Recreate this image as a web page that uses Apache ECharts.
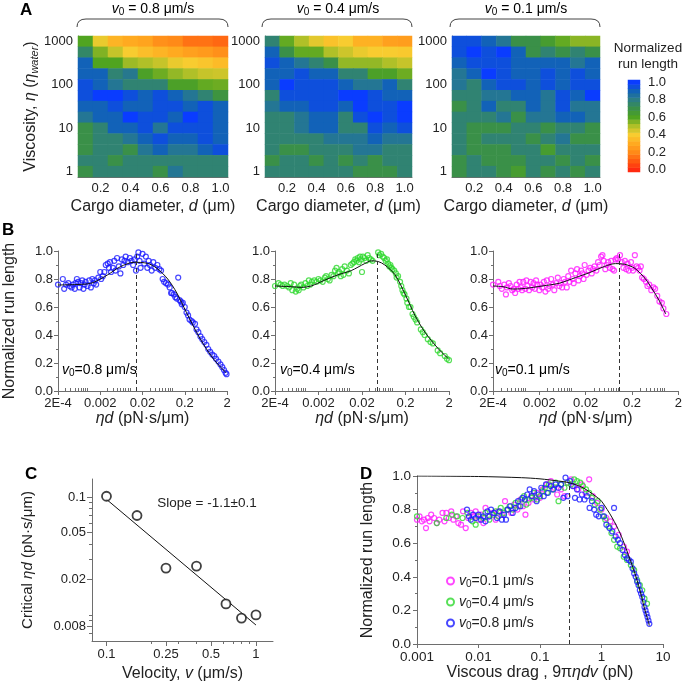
<!DOCTYPE html>
<html>
<head>
<meta charset="utf-8">
<script src="https://cdn.jsdelivr.net/npm/echarts@6/dist/echarts.min.js"></script>
<style>
  html, body { margin: 0; padding: 0; background: #fff; }
  #chart { width: 685px; height: 683px; }
</style>
</head>
<body>
<div id="chart"></div>
<script>
// ---------- data ----------
const diameters = ['0.1', '0.2', '0.3', '0.4', '0.5', '0.6', '0.7', '0.8', '0.9', '1.0']
const viscosities = ['1', '1.8', '3.2', '5.6', '10', '18', '32', '56', '100', '180', '320', '560', '1000']

// heatmap rows, top (1000) to bottom (1)
const heat08 = [
  [0.60, 0.42, 0.33, 0.30, 0.28, 0.22, 0.20, 0.15, 0.15, 0.13],
  [0.75, 0.55, 0.47, 0.40, 0.36, 0.33, 0.30, 0.27, 0.25, 0.22],
  [0.90, 0.60, 0.60, 0.52, 0.50, 0.47, 0.42, 0.40, 0.38, 0.35],
  [0.90, 0.90, 0.77, 0.82, 0.62, 0.57, 0.53, 0.50, 0.47, 0.46],
  [0.95, 0.90, 0.83, 0.77, 0.77, 0.77, 0.62, 0.62, 0.58, 0.57],
  [0.95, 1.00, 1.00, 0.95, 0.90, 0.95, 0.90, 0.83, 0.77, 0.68],
  [0.90, 0.90, 0.95, 0.90, 0.90, 0.95, 0.95, 0.90, 0.95, 0.90],
  [0.83, 0.90, 0.90, 1.00, 0.95, 0.95, 0.90, 1.00, 0.95, 0.90],
  [0.70, 0.77, 0.90, 0.90, 0.95, 0.83, 0.95, 0.95, 0.95, 0.90],
  [0.70, 0.77, 0.77, 0.83, 0.90, 0.95, 0.90, 0.90, 0.95, 0.90],
  [0.70, 0.77, 0.77, 0.70, 0.83, 0.90, 0.83, 0.83, 0.90, 0.95],
  [0.77, 0.77, 0.70, 0.77, 0.77, 0.77, 0.77, 0.77, 0.77, 0.77],
  [0.70, 0.77, 0.77, 0.77, 0.77, 0.70, 0.83, 0.77, 0.77, 0.77]
]
const heat04 = [
  [0.77, 0.58, 0.50, 0.43, 0.37, 0.40, 0.32, 0.32, 0.27, 0.26],
  [0.90, 0.70, 0.58, 0.58, 0.50, 0.46, 0.42, 0.40, 0.40, 0.39],
  [0.95, 0.90, 0.83, 0.77, 0.70, 0.53, 0.53, 0.53, 0.50, 0.47],
  [0.90, 0.90, 0.95, 0.90, 0.90, 0.77, 0.77, 0.62, 0.62, 0.57],
  [0.90, 1.00, 0.95, 0.95, 0.95, 0.90, 0.83, 0.83, 0.90, 0.77],
  [0.77, 0.95, 0.95, 0.95, 0.95, 1.00, 1.00, 0.95, 0.90, 0.90],
  [0.83, 0.90, 0.90, 0.95, 0.95, 0.90, 1.00, 0.95, 0.95, 1.00],
  [0.77, 0.77, 0.83, 0.90, 0.90, 0.77, 0.95, 1.00, 0.95, 1.00],
  [0.77, 0.77, 0.83, 0.90, 0.90, 0.77, 0.77, 0.95, 0.90, 0.95],
  [0.77, 0.77, 0.77, 0.77, 0.83, 0.83, 0.83, 0.90, 0.83, 0.83],
  [0.77, 0.70, 0.70, 0.77, 0.77, 0.77, 0.83, 0.83, 0.77, 0.77],
  [0.70, 0.77, 0.77, 0.70, 0.77, 0.70, 0.77, 0.70, 0.77, 0.77],
  [0.77, 0.77, 0.77, 0.77, 0.77, 0.77, 0.70, 0.70, 0.70, 0.77]
]
const heat01 = [
  [0.95, 0.95, 0.90, 0.83, 0.70, 0.70, 0.64, 0.58, 0.54, 0.54],
  [0.95, 1.00, 0.95, 1.00, 0.90, 0.70, 0.77, 0.70, 0.77, 0.70],
  [0.90, 0.95, 0.95, 0.95, 0.90, 0.90, 0.90, 0.90, 0.83, 0.90],
  [0.83, 0.90, 1.00, 0.95, 0.90, 0.90, 0.95, 0.90, 0.95, 0.90],
  [0.83, 0.77, 0.90, 0.95, 0.95, 0.90, 0.95, 0.90, 0.95, 0.95],
  [0.77, 0.77, 0.83, 0.83, 0.90, 0.90, 0.83, 0.95, 0.90, 1.00],
  [0.70, 0.77, 0.90, 0.77, 0.77, 0.90, 0.83, 0.95, 0.83, 0.83],
  [0.77, 0.77, 0.77, 0.83, 0.70, 0.83, 0.83, 0.90, 0.90, 0.83],
  [0.77, 0.70, 0.70, 0.70, 0.77, 0.77, 0.70, 0.77, 0.77, 0.70],
  [0.77, 0.70, 0.77, 0.77, 0.77, 0.70, 0.77, 0.83, 0.70, 0.70],
  [0.77, 0.70, 0.70, 0.70, 0.77, 0.77, 0.64, 0.77, 0.77, 0.77],
  [0.70, 0.77, 0.70, 0.70, 0.70, 0.77, 0.77, 0.70, 0.77, 0.70],
  [0.70, 0.77, 0.77, 0.70, 0.64, 0.77, 0.70, 0.77, 0.70, 0.77]
]
const colorbarLevels = ['0.00', '0.05', '0.10', '0.15', '0.20', '0.25', '0.30', '0.35', '0.40', '0.45', '0.50',
  '0.55', '0.60', '0.65', '0.70', '0.75', '0.80', '0.85', '0.90', '0.95', '1.00']

// panel B: run length vs eta*d
const bTickValues = [2e-4, 0.002, 0.02, 0.2, 2]
const bTickLabels = ['2E-4', '0.002', '0.02', '0.2', '2']
const blueB = [
  [2.0e-4, 0.76], [2.6e-4, 0.80], [2.8e-4, 0.73], [3.1e-4, 0.76], [3.5e-4, 0.77], [3.8e-4, 0.75], [4.2e-4, 0.74],
  [4.5e-4, 0.76], [5.0e-4, 0.73], [5.2e-4, 0.77], [5.6e-4, 0.80], [6.0e-4, 0.78], [6.5e-4, 0.74], [7.0e-4, 0.77],
  [7.5e-4, 0.79], [8.0e-4, 0.73], [8.5e-4, 0.76], [9.0e-4, 0.78], [1.0e-3, 0.75], [1.1e-3, 0.79], [1.2e-3, 0.74],
  [1.3e-3, 0.80], [1.4e-3, 0.77], [1.5e-3, 0.79], [1.6e-3, 0.76], [1.8e-3, 0.81], [2.0e-3, 0.85], [2.1e-3, 0.80],
  [2.3e-3, 0.82], [2.5e-3, 0.85], [2.7e-3, 0.90], [3.0e-3, 0.91], [3.2e-3, 0.88], [3.4e-3, 0.92], [3.6e-3, 0.85],
  [4.0e-3, 0.88], [4.3e-3, 0.93], [4.6e-3, 0.86], [5.0e-3, 0.95], [5.5e-3, 0.89], [6.0e-3, 0.84], [6.5e-3, 0.94],
  [7.0e-3, 0.90], [7.5e-3, 0.93], [8.0e-3, 0.96], [9.0e-3, 0.92], [0.010, 0.95], [0.011, 0.93], [0.012, 0.90],
  [0.013, 0.94], [0.014, 0.86], [0.015, 0.96], [0.016, 0.99], [0.017, 0.93], [0.018, 0.88], [0.020, 0.98],
  [0.022, 0.91], [0.024, 0.96], [0.026, 0.88], [0.028, 0.93], [0.030, 0.90], [0.033, 0.86], [0.036, 0.92],
  [0.040, 0.88], [0.045, 0.90], [0.050, 0.87], [0.055, 0.86], [0.060, 0.80], [0.065, 0.78], [0.072, 0.77],
  [0.080, 0.76], [0.088, 0.74], [0.095, 0.70], [0.10, 0.70], [0.11, 0.69], [0.12, 0.67], [0.13, 0.66],
  [0.14, 0.81], [0.15, 0.65], [0.16, 0.64], [0.17, 0.62], [0.18, 0.63], [0.20, 0.60], [0.22, 0.56], [0.24, 0.54],
  [0.26, 0.51], [0.29, 0.50], [0.31, 0.49], [0.35, 0.48], [0.38, 0.44], [0.42, 0.42], [0.47, 0.39], [0.52, 0.37],
  [0.58, 0.35], [0.65, 0.33], [0.72, 0.30], [0.80, 0.28], [0.90, 0.26], [1.0, 0.25], [1.1, 0.23], [1.25, 0.21],
  [1.4, 0.19], [1.55, 0.17], [1.7, 0.15], [1.85, 0.13], [1.95, 0.12]
]
const greenB = [
  [2.0e-4, 0.75], [2.4e-4, 0.77], [2.7e-4, 0.76], [3.0e-4, 0.75], [3.3e-4, 0.76], [3.8e-4, 0.75], [4.2e-4, 0.74],
  [4.6e-4, 0.77], [5.0e-4, 0.72], [5.5e-4, 0.76], [6.0e-4, 0.71], [6.5e-4, 0.73], [7.0e-4, 0.72], [7.5e-4, 0.75],
  [8.0e-4, 0.76], [9.0e-4, 0.74], [1.0e-3, 0.77], [1.1e-3, 0.75], [1.2e-3, 0.79], [1.3e-3, 0.76], [1.4e-3, 0.78],
  [1.6e-3, 0.79], [1.8e-3, 0.78], [2.0e-3, 0.80], [2.2e-3, 0.79], [2.5e-3, 0.78], [2.8e-3, 0.81], [3.0e-3, 0.82],
  [3.3e-3, 0.80], [3.6e-3, 0.79], [4.0e-3, 0.83], [4.4e-3, 0.82], [4.8e-3, 0.86], [5.2e-3, 0.88], [5.6e-3, 0.84],
  [6.0e-3, 0.85], [6.5e-3, 0.82], [7.0e-3, 0.87], [7.5e-3, 0.83], [8.0e-3, 0.89], [9.0e-3, 0.86], [0.010, 0.84],
  [0.011, 0.90], [0.012, 0.91], [0.013, 0.92], [0.014, 0.94], [0.015, 0.93], [0.016, 0.95], [0.017, 0.92],
  [0.018, 0.96], [0.019, 0.94], [0.020, 0.85], [0.021, 0.96], [0.023, 0.95], [0.025, 0.93], [0.027, 0.97],
  [0.029, 0.95], [0.032, 0.94], [0.035, 0.93], [0.047, 0.99], [0.050, 0.97], [0.055, 0.98], [0.060, 0.96],
  [0.065, 0.95], [0.070, 0.93], [0.075, 0.94], [0.080, 0.91], [0.085, 0.89], [0.090, 0.90], [0.095, 0.88],
  [0.10, 0.87], [0.11, 0.86], [0.12, 0.84], [0.125, 0.81], [0.135, 0.82], [0.15, 0.78], [0.16, 0.75], [0.17, 0.72],
  [0.18, 0.70], [0.19, 0.69], [0.21, 0.66], [0.22, 0.63], [0.24, 0.60], [0.26, 0.60], [0.29, 0.55], [0.31, 0.53],
  [0.34, 0.51], [0.37, 0.49], [0.45, 0.44], [0.50, 0.42], [0.55, 0.40], [0.65, 0.37], [0.75, 0.35], [0.85, 0.34],
  [1.1, 0.29], [1.25, 0.27], [1.6, 0.25], [1.8, 0.23], [2.0, 0.22]
]
const magentaB = [
  [2.0e-4, 0.76], [2.6e-4, 0.78], [2.8e-4, 0.75], [3.1e-4, 0.73], [3.5e-4, 0.76], [3.8e-4, 0.69], [4.0e-4, 0.74],
  [4.4e-4, 0.77], [4.8e-4, 0.75], [5.2e-4, 0.72], [5.6e-4, 0.73], [6.0e-4, 0.70], [6.5e-4, 0.76], [7.0e-4, 0.73],
  [7.5e-4, 0.78], [8.0e-4, 0.74], [8.5e-4, 0.72], [9.0e-4, 0.78], [1.0e-3, 0.73], [1.05e-3, 0.79], [1.1e-3, 0.75],
  [1.2e-3, 0.72], [1.3e-3, 0.78], [1.4e-3, 0.74], [1.5e-3, 0.77], [1.6e-3, 0.73], [1.7e-3, 0.79], [1.8e-3, 0.76],
  [2.0e-3, 0.72], [2.1e-3, 0.76], [2.3e-3, 0.74], [2.5e-3, 0.78], [2.7e-3, 0.71], [2.9e-3, 0.79], [3.1e-3, 0.73],
  [3.3e-3, 0.75], [3.6e-3, 0.80], [3.9e-3, 0.76], [4.2e-3, 0.72], [4.6e-3, 0.77], [5.0e-3, 0.81], [5.4e-3, 0.75],
  [5.8e-3, 0.77], [6.2e-3, 0.74], [6.7e-3, 0.80], [7.2e-3, 0.78], [7.8e-3, 0.74], [8.4e-3, 0.82], [9.0e-3, 0.78],
  [9.7e-3, 0.86], [0.0105, 0.80], [0.011, 0.77], [0.012, 0.84], [0.013, 0.87], [0.014, 0.79], [0.015, 0.82],
  [0.016, 0.86], [0.017, 0.84], [0.018, 0.80], [0.019, 0.90], [0.021, 0.83], [0.023, 0.86], [0.025, 0.88],
  [0.027, 0.84], [0.029, 0.87], [0.031, 0.89], [0.034, 0.86], [0.037, 0.92], [0.040, 0.90], [0.043, 0.96],
  [0.046, 0.97], [0.049, 0.93], [0.053, 0.87], [0.057, 0.90], [0.061, 0.92], [0.066, 0.88], [0.071, 0.93],
  [0.076, 0.87], [0.082, 0.86], [0.088, 0.94], [0.094, 0.95], [0.10, 0.94], [0.11, 0.97], [0.12, 0.92],
  [0.13, 0.88], [0.14, 0.93], [0.15, 0.87], [0.16, 0.91], [0.17, 0.86], [0.19, 0.92], [0.20, 0.88], [0.21, 0.86],
  [0.23, 0.97], [0.25, 0.89], [0.27, 0.88], [0.29, 0.86], [0.31, 0.89], [0.33, 0.81], [0.36, 0.80], [0.40, 0.78],
  [0.43, 0.75], [0.47, 0.76], [0.52, 0.72], [0.58, 0.74], [0.63, 0.73], [0.70, 0.68], [0.78, 0.64], [0.88, 0.63],
  [0.95, 0.59], [1.1, 0.55]
]
const fitB08 = [[2e-4, 0.757], [5e-4, 0.76], [1e-3, 0.765], [1.4e-3, 0.776], [3e-3, 0.83], [6e-3, 0.888], [0.0126, 0.919],
  [0.026, 0.912], [0.044, 0.876], [0.079, 0.80], [0.13, 0.70], [0.22, 0.56], [0.46, 0.375], [0.95, 0.23], [1.9, 0.13]]
const fitB04 = [[2e-4, 0.75], [4.7e-4, 0.745], [8e-4, 0.74], [1.35e-3, 0.75], [2.7e-3, 0.79], [5.6e-3, 0.83], [0.0113, 0.86],
  [0.023, 0.91], [0.033, 0.93], [0.047, 0.925], [0.067, 0.90], [0.115, 0.83], [0.20, 0.685], [0.33, 0.54], [0.56, 0.42],
  [1.15, 0.30], [1.95, 0.23]]
const fitB01 = [[2e-4, 0.75], [3.3e-4, 0.745], [5.4e-4, 0.728], [1e-3, 0.733], [2.3e-3, 0.75], [5.4e-3, 0.77], [0.012, 0.81],
  [0.024, 0.845], [0.051, 0.89], [0.088, 0.91], [0.14, 0.905], [0.23, 0.876], [0.39, 0.80], [0.54, 0.73], [0.76, 0.65],
  [1.07, 0.55]]
const criticalB = [0.0145, 0.044, 0.107]   // dashed lines for v0 = 0.8, 0.4, 0.1

// panel C: critical eta*d vs velocity
const velocities = [0.1, 0.16, 0.25, 0.4, 0.63, 0.8, 1.0]
const criticalEtaD = [0.102, 0.070, 0.025, 0.026, 0.0124, 0.0094, 0.0100]
const fitC = [[0.1, 0.096], [1.0, 0.0082]]
const cXTicks = [0.1, 0.25, 0.5, 1]
const cXLabels = ['0.1', '0.25', '0.5', '1']
const cXMinor = [0.2, 0.3, 0.4, 0.6, 0.7, 0.8, 0.9]
const cYTicks = [0.008, 0.02, 0.05, 0.1]
const cYLabels = ['0.008', '0.02', '0.05', '0.1']
const cYMinor = [0.007, 0.009, 0.01, 0.03, 0.04, 0.06, 0.07, 0.08, 0.09]

// panel D: run length vs viscous drag
const dTicks = [0.001, 0.01, 0.1, 1, 10]
const dLabels = ['0.001', '0.01', '0.1', '1', '10']
const magentaD = [
  [0.0010, 0.74], [0.0011, 0.76], [0.0012, 0.73], [0.0013, 0.74], [0.0014, 0.69], [0.0015, 0.75], [0.0016, 0.73],
  [0.0017, 0.77], [0.0019, 0.75], [0.0021, 0.72], [0.0023, 0.74], [0.0026, 0.78], [0.0028, 0.73], [0.0030, 0.78],
  [0.0033, 0.75], [0.0036, 0.79], [0.0039, 0.74], [0.0043, 0.76], [0.0047, 0.72], [0.0052, 0.71], [0.0056, 0.79],
  [0.0062, 0.69], [0.0068, 0.75], [0.0075, 0.78], [0.0082, 0.76], [0.009, 0.79], [0.010, 0.74], [0.011, 0.77],
  [0.012, 0.72], [0.013, 0.81], [0.015, 0.76], [0.017, 0.78], [0.019, 0.74], [0.021, 0.79], [0.024, 0.77],
  [0.027, 0.85], [0.030, 0.80], [0.034, 0.78], [0.038, 0.83], [0.043, 0.80], [0.048, 0.86], [0.053, 0.82],
  [0.058, 0.77], [0.065, 0.84], [0.072, 0.88], [0.08, 0.86], [0.09, 0.90], [0.10, 0.87], [0.11, 0.92], [0.13, 0.95],
  [0.15, 0.97], [0.17, 0.93], [0.19, 0.89], [0.22, 0.92], [0.25, 0.88], [0.28, 0.96], [0.32, 0.98], [0.36, 0.94],
  [0.42, 0.92], [0.48, 0.95], [0.55, 0.90], [0.63, 0.98], [0.72, 0.88], [0.85, 0.84], [1.0, 0.80], [1.2, 0.75],
  [1.4, 0.73], [1.6, 0.70], [1.9, 0.65], [2.3, 0.58], [2.6, 0.55]
]
const greenD = [
  [0.0010, 0.76], [0.0021, 0.72], [0.0030, 0.75], [0.0037, 0.77], [0.0045, 0.76], [0.0055, 0.75], [0.0066, 0.78],
  [0.0080, 0.73], [0.009, 0.71], [0.010, 0.76], [0.012, 0.75], [0.013, 0.78], [0.015, 0.74], [0.017, 0.77],
  [0.019, 0.79], [0.021, 0.76], [0.023, 0.81], [0.026, 0.78], [0.029, 0.80], [0.032, 0.82], [0.036, 0.80],
  [0.040, 0.84], [0.045, 0.82], [0.050, 0.86], [0.055, 0.88], [0.060, 0.83], [0.066, 0.86], [0.073, 0.87],
  [0.080, 0.90], [0.09, 0.86], [0.10, 0.88], [0.11, 0.91], [0.12, 0.93], [0.13, 0.90], [0.14, 0.95], [0.16, 0.92],
  [0.18, 0.96], [0.20, 0.85], [0.22, 0.95], [0.25, 0.93], [0.28, 0.96], [0.32, 0.95], [0.36, 0.98], [0.40, 0.97],
  [0.45, 0.96], [0.50, 0.94], [0.56, 0.92], [0.63, 0.90], [0.70, 0.87], [0.78, 0.83], [0.87, 0.85], [0.95, 0.80],
  [1.05, 0.76], [1.15, 0.74], [1.3, 0.70], [1.45, 0.66], [1.6, 0.62], [1.8, 0.58], [2.0, 0.57], [2.3, 0.52],
  [2.6, 0.50], [3.0, 0.47], [3.4, 0.44], [3.8, 0.38], [4.2, 0.35], [4.6, 0.32], [5.0, 0.27], [5.5, 0.24]
]
const blueD = [
  [0.0065, 0.80], [0.0070, 0.76], [0.0075, 0.74], [0.0082, 0.77], [0.009, 0.75], [0.010, 0.77], [0.011, 0.74],
  [0.012, 0.76], [0.013, 0.73], [0.014, 0.79], [0.015, 0.76], [0.016, 0.80], [0.018, 0.78], [0.020, 0.75],
  [0.022, 0.79], [0.024, 0.74], [0.026, 0.77], [0.028, 0.74], [0.030, 0.80], [0.033, 0.82], [0.036, 0.78],
  [0.040, 0.81], [0.044, 0.85], [0.048, 0.82], [0.052, 0.87], [0.057, 0.86], [0.062, 0.89], [0.068, 0.92],
  [0.074, 0.88], [0.080, 0.91], [0.088, 0.85], [0.095, 0.89], [0.105, 0.93], [0.115, 0.88], [0.125, 0.95],
  [0.135, 0.90], [0.15, 0.94], [0.165, 0.92], [0.18, 0.95], [0.20, 0.93], [0.22, 0.95], [0.24, 0.87], [0.26, 0.99],
  [0.28, 0.88], [0.31, 0.97], [0.34, 0.94], [0.37, 0.87], [0.40, 0.92], [0.44, 0.86], [0.48, 0.89], [0.53, 0.86],
  [0.58, 0.88], [0.64, 0.81], [0.70, 0.85], [0.76, 0.80], [0.82, 0.77], [0.90, 0.76], [1.0, 0.81], [1.1, 0.76],
  [1.2, 0.71], [1.35, 0.69], [1.5, 0.67], [1.6, 0.81], [1.7, 0.64], [1.85, 0.62], [2.0, 0.60], [2.2, 0.56],
  [2.4, 0.53], [2.6, 0.51], [2.8, 0.50], [3.0, 0.49], [3.2, 0.45], [3.4, 0.42], [3.6, 0.40], [3.8, 0.37],
  [4.0, 0.35], [4.2, 0.32], [4.4, 0.30], [4.6, 0.28], [4.8, 0.25], [5.0, 0.22], [5.2, 0.20], [5.4, 0.18],
  [5.6, 0.16], [5.8, 0.14], [6.0, 0.12]
]
const fitD = [[0.001, 1.0], [0.01, 0.997], [0.05, 0.99], [0.1, 0.983], [0.2, 0.97], [0.3, 0.96], [0.5, 0.93], [0.8, 0.88],
  [1, 0.85], [1.5, 0.75], [2, 0.66], [2.5, 0.57], [3, 0.49], [3.5, 0.42], [4, 0.35], [4.5, 0.28], [5, 0.21], [5.5, 0.16],
  [6, 0.11]]
const criticalD = 0.3

// ---------- styling helpers ----------
const FONT = '"Liberation Sans", Arial, Helvetica, sans-serif'
const TXT = '#222'
const AX = '#6e6e6e'
const BLUE = '#1a1aff'
const GREEN = '#2ed82e'
const MAGENTA = '#ff1aff'

const rich16 = {
  n: { fontFamily: FONT, fontSize: 16, color: TXT, lineHeight: 18 },
  i: { fontFamily: FONT, fontSize: 16, color: TXT, fontStyle: 'italic', lineHeight: 18 },
  sub: { fontFamily: FONT, fontSize: 11, color: TXT, fontStyle: 'italic', verticalAlign: 'bottom', lineHeight: 11 }
}
const rich14 = {
  n: { fontFamily: FONT, fontSize: 14, color: TXT, lineHeight: 16 },
  i: { fontFamily: FONT, fontSize: 14, color: TXT, fontStyle: 'italic', lineHeight: 16 },
  s: { fontFamily: FONT, fontSize: 10, color: TXT, verticalAlign: 'bottom', lineHeight: 10 }
}
const v0Text = (rest) => '{i|v}{s|0}{n|' + rest + '}'

const lookup = (vals, labels) => (v) => {
  const i = vals.findIndex(t => Math.abs(v / t - 1) < 1e-6)
  return i >= 0 ? labels[i] : ''
}
const minorLogTicks = (lo, hi, skip) => {
  const out = []
  for (let e = -5; e <= 2; e++) {
    for (let m = 1; m <= 9; m++) {
      const v = m * Math.pow(10, e)
      if (v > lo * 1.0001 && v < hi * 0.9999 && !skip.some(s => Math.abs(v / s - 1) < 1e-6)) out.push(+v.toPrecision(3))
    }
  }
  return out
}
const tickLabel = { color: TXT, fontSize: 13, fontFamily: FONT }
const lineStyleAx = { lineStyle: { color: AX, width: 1 } }

const grid = []
const xAxis = []
const yAxis = []
const series = []
const addGrid = (g) => { grid.push(g); return grid.length - 1 }
const addX = (a) => { xAxis.push(a); return xAxis.length - 1 }
const addY = (a) => { yAxis.push(a); return yAxis.length - 1 }

// ---------- panel A: heatmaps ----------
const toCells = (rows) => {
  const out = []
  rows.forEach((row, r) => row.forEach((v, c) => out.push([c, rows.length - 1 - r, v])))
  return out
}
const heatPanels = [
  { rows: heat08, left: 78, width: 150 },
  { rows: heat04, left: 265, width: 147 },
  { rows: heat01, left: 452, width: 148 }
]
heatPanels.forEach((p, k) => {
  const g = addGrid({ left: p.left, top: 36, width: p.width, height: 141 })
  const xi = addX({
    type: 'category', gridIndex: g, data: diameters,
    axisLine: lineStyleAx,
    axisTick: { alignWithLabel: true, interval: 0, length: 3, lineStyle: { color: AX } },
    axisLabel: { ...tickLabel, interval: (idx) => idx % 2 === 1, margin: 5 },
    name: '{n|Cargo diameter, }{i|d}{n| (μm)}',
    nameLocation: 'middle', nameGap: 21, nameTextStyle: { rich: rich16 }
  })
  const yi = addY({
    type: 'category', gridIndex: g, data: viscosities,
    axisLine: lineStyleAx,
    axisTick: { alignWithLabel: true, interval: 0, length: 3, lineStyle: { color: AX } },
    axisLabel: { ...tickLabel, interval: (idx) => idx % 4 === 0, margin: 5 },
    name: k === 0 ? '{n|Viscosity, }{i|η}{n| (}{i|η}{sub|water}{n|)}' : '',
    nameLocation: 'middle', nameGap: 38, nameTextStyle: { rich: rich16 }
  })
  series.push({
    type: 'heatmap', xAxisIndex: xi, yAxisIndex: yi, data: toCells(p.rows),
    emphasis: { disabled: true }, itemStyle: { borderWidth: 0 }
  })
})

// colour bar
{
  const g = addGrid({ left: 628, top: 80, width: 12, height: 92 })
  const xi = addX({ type: 'category', gridIndex: g, data: [''], show: false })
  const yi = addY({
    type: 'category', gridIndex: g, data: colorbarLevels, position: 'right',
    axisLine: { show: false }, axisTick: { show: false },
    axisLabel: { ...tickLabel, interval: (idx) => idx % 4 === 0, margin: 8, formatter: (v) => Number(v).toFixed(1) }
  })
  series.push({
    type: 'heatmap', xAxisIndex: xi, yAxisIndex: yi,
    data: colorbarLevels.map((v, i) => [0, i, Number(v)]),
    emphasis: { disabled: true }
  })
}

// ---------- panel B ----------
const bMinor = minorLogTicks(2e-4, 2, bTickValues)
const bPanels = [
  { pts: blueB, fit: fitB08, crit: criticalB[0], color: BLUE, left: 57, width: 170, yName: 'Normalized run length' },
  { pts: greenB, fit: fitB04, crit: criticalB[1], color: GREEN, left: 275, width: 174, yName: '' },
  { pts: magentaB, fit: fitB01, crit: criticalB[2], color: MAGENTA, left: 493, width: 186, yName: '' }
]
bPanels.forEach((p) => {
  const g = addGrid({ left: p.left, top: 251, width: p.width, height: 140 })
  const xi = addX({
    type: 'log', gridIndex: g, min: 2e-4, max: 2, position: 'bottom',
    axisLine: lineStyleAx, splitLine: { show: false },
    axisTick: { customValues: bTickValues, length: 4, lineStyle: { color: AX } },
    axisLabel: { ...tickLabel, customValues: bTickValues, formatter: lookup(bTickValues, bTickLabels), margin: 6 },
    name: '{i|ηd}{n| (pN·s/μm)}', nameLocation: 'middle', nameGap: 19, nameTextStyle: { rich: rich16 }
  })
  addX({
    type: 'log', gridIndex: g, min: 2e-4, max: 2, position: 'bottom',
    axisLine: { show: false }, axisLabel: { show: false }, splitLine: { show: false },
    axisTick: { customValues: bMinor, inside: true, length: 3, lineStyle: { color: AX } }
  })
  const yi = addY({
    type: 'value', gridIndex: g, min: 0, max: 1, interval: 0.2, position: 'left',
    axisLine: { show: true, lineStyle: { color: AX } },
    axisTick: { show: true, length: 4, lineStyle: { color: AX } },
    minorTick: { show: true, splitNumber: 2, length: 2, lineStyle: { color: AX } },
    splitLine: { show: false },
    axisLabel: { ...tickLabel, formatter: (v) => v.toFixed(1), margin: 5 },
    name: p.yName, nameLocation: 'middle', nameGap: 39,
    nameTextStyle: { fontFamily: FONT, fontSize: 16, color: TXT, lineHeight: 18 }
  })
  series.push({
    type: 'scatter', xAxisIndex: xi, yAxisIndex: yi, data: p.pts,
    symbol: 'circle', symbolSize: 5,
    itemStyle: { color: 'rgba(0,0,0,0)', borderColor: p.color, borderWidth: 1.2 }, z: 2
  })
  series.push({
    type: 'line', xAxisIndex: xi, yAxisIndex: yi, data: p.fit, smooth: 0.3, showSymbol: false,
    lineStyle: { color: '#111', width: 1 }, z: 3,
    markLine: {
      silent: true, symbol: 'none', label: { show: false },
      lineStyle: { type: [4, 3], color: '#333', width: 1 },
      data: [[{ coord: [p.crit, 0] }, { coord: [p.crit, 1] }]]
    }
  })
})

// ---------- panel C ----------
{
  const g = addGrid({ left: 92, top: 479, width: 181, height: 162 })
  const xi = addX({
    type: 'log', gridIndex: g, min: 0.08, max: 1.3, position: 'bottom',
    axisLine: lineStyleAx, splitLine: { show: false },
    axisTick: { customValues: cXTicks, length: 5, lineStyle: { color: AX } },
    axisLabel: { ...tickLabel, customValues: cXTicks, formatter: lookup(cXTicks, cXLabels), margin: 7 },
    name: '{n|Velocity, }{i|v}{n| (μm/s)}', nameLocation: 'middle', nameGap: 24, nameTextStyle: { rich: rich16 }
  })
  addX({
    type: 'log', gridIndex: g, min: 0.08, max: 1.3, position: 'bottom',
    axisLine: { show: false }, axisLabel: { show: false }, splitLine: { show: false },
    axisTick: { customValues: cXMinor, length: 3, lineStyle: { color: AX } }
  })
  const yi = addY({
    type: 'log', gridIndex: g, min: 0.006, max: 0.143, position: 'left',
    axisLine: lineStyleAx, splitLine: { show: false },
    axisTick: { customValues: cYTicks, length: 5, lineStyle: { color: AX } },
    axisLabel: { ...tickLabel, customValues: cYTicks, formatter: lookup(cYTicks, cYLabels), margin: 6 },
    name: '{n|Critical }{i|ηd}{n| (pN·s/μm)}', nameLocation: 'middle', nameGap: 55,
    nameTextStyle: { rich: { ...rich16, n: { ...rich16.n, fontSize: 15 }, i: { ...rich16.i, fontSize: 15 } } }
  })
  addY({
    type: 'log', gridIndex: g, min: 0.006, max: 0.143, position: 'left',
    axisLine: { show: false }, axisLabel: { show: false }, splitLine: { show: false },
    axisTick: { customValues: cYMinor, length: 3, lineStyle: { color: AX } }
  })
  series.push({
    type: 'line', xAxisIndex: xi, yAxisIndex: yi, data: fitC, showSymbol: false,
    lineStyle: { color: '#111', width: 1 }, z: 2
  })
  series.push({
    type: 'scatter', xAxisIndex: xi, yAxisIndex: yi,
    data: velocities.map((v, i) => [v, criticalEtaD[i]]),
    symbol: 'circle', symbolSize: 9,
    itemStyle: { color: '#fff', borderColor: '#111', borderWidth: 1.8 }, z: 3
  })
}

// ---------- panel D ----------
{
  const g = addGrid({ left: 417, top: 476, width: 246, height: 168 })
  const xi = addX({
    type: 'log', gridIndex: g, min: 0.001, max: 10,
    axisLine: lineStyleAx, splitLine: { show: false },
    axisTick: { customValues: dTicks, length: 4, lineStyle: { color: AX } },
    axisLabel: { ...tickLabel, fontSize: 13.5, customValues: dTicks, formatter: lookup(dTicks, dLabels), margin: 6 },
    name: '{n|Viscous drag , 9π}{i|ηdv}{n| (pN)}', nameLocation: 'middle', nameGap: 17, nameTextStyle: { rich: rich16 }
  })
  const yi = addY({
    type: 'value', gridIndex: g, min: 0, max: 1, interval: 0.2,
    axisLine: { show: true, lineStyle: { color: AX } },
    axisTick: { show: true, length: 4, lineStyle: { color: AX } },
    minorTick: { show: true, splitNumber: 2, length: 2, lineStyle: { color: AX } },
    splitLine: { show: false },
    axisLabel: { ...tickLabel, fontSize: 13.5, formatter: (v) => v.toFixed(1), margin: 6 },
    name: 'Normalized run length', nameLocation: 'middle', nameGap: 40,
    nameTextStyle: { fontFamily: FONT, fontSize: 16, color: TXT, lineHeight: 18 }
  })
  const dSeries = [
    { name: 'v0=0.1 μm/s', pts: magentaD, color: MAGENTA },
    { name: 'v0=0.4 μm/s', pts: greenD, color: GREEN },
    { name: 'v0=0.8 μm/s', pts: blueD, color: BLUE }
  ]
  dSeries.forEach((s) => series.push({
    type: 'scatter', name: s.name, xAxisIndex: xi, yAxisIndex: yi, data: s.pts,
    symbol: 'circle', symbolSize: 5,
    itemStyle: { color: 'rgba(0,0,0,0)', borderColor: s.color, borderWidth: 1.2 }, z: 2
  }))
  series.push({
    type: 'line', xAxisIndex: xi, yAxisIndex: yi, data: fitD, smooth: 0.3, showSymbol: false,
    lineStyle: { color: '#111', width: 1 }, z: 3,
    markLine: {
      silent: true, symbol: 'none', label: { show: false },
      lineStyle: { type: [4, 3], color: '#333', width: 1 },
      data: [[{ coord: [criticalD, 0] }, { coord: [criticalD, 0.96] }]]
    }
  })
}

// ---------- free text and decorations ----------
const letter = (t, x, y) => ({
  type: 'text', x, y, style: { text: t, font: 'bold 17px ' + FONT, fill: '#000' }
})
const centered = (x, y, text, rich) => ({
  type: 'text', x, y, style: { text, rich, align: 'center', verticalAlign: 'middle' }
})
// bracket above each heatmap: two rounded ends and a straight top
const braceStyle = { stroke: '#444', fill: 'none', lineWidth: 1 }
const brace = (x, w) => [
  { type: 'bezierCurve', shape: { x1: x, y1: 27, x2: x + 9, y2: 19, cpx1: x, cpy1: 19 }, style: braceStyle },
  { type: 'line', shape: { x1: x + 9, y1: 19, x2: x + w - 9, y2: 19 }, style: braceStyle },
  { type: 'bezierCurve', shape: { x1: x + w - 9, y1: 19, x2: x + w, y2: 27, cpx1: x + w, cpy1: 19 }, style: braceStyle }
]
const graphic = [
  letter('A', 20, 2), letter('B', 2, 222), letter('C', 25, 466), letter('D', 360, 466),
  centered(153, 9, v0Text(' = 0.8 μm/s'), rich14),
  centered(338, 9, v0Text(' = 0.4 μm/s'), rich14),
  centered(526, 9, v0Text(' = 0.1 μm/s'), rich14),
  ...brace(77, 151), ...brace(262, 150), ...brace(450, 150),
  {
    type: 'text', x: 648, y: 40,
    style: { text: 'Normalized\nrun length', font: '13.5px ' + FONT, fill: TXT, align: 'center', lineHeight: 16 }
  },
  { type: 'text', x: 62, y: 362, style: { text: v0Text('=0.8 μm/s'), rich: rich14 } },
  { type: 'text', x: 280, y: 362, style: { text: v0Text('=0.4 μm/s'), rich: rich14 } },
  { type: 'text', x: 495, y: 362, style: { text: v0Text('=0.1 μm/s'), rich: rich14 } },
  { type: 'text', x: 207, y: 503, style: { text: 'Slope = -1.1±0.1', font: '13.5px ' + FONT, fill: TXT, align: 'center', verticalAlign: 'middle' } }
]

const chart = echarts.init(document.getElementById('chart'))
chart.setOption({
  animation: false,
  backgroundColor: '#fff',
  textStyle: { fontFamily: FONT },
  grid, xAxis, yAxis, series, graphic,
  visualMap: {
    type: 'continuous', show: false, min: 0, max: 1, seriesIndex: [0, 1, 2, 3],
    inRange: {
      color: ['#ff2a10', '#ff5a10', '#ff8a18', '#ffaa20', '#f8cc30', '#b0c028', '#50a420',
        '#3a9048', '#2c7e84', '#1262b8', '#0a3cff']
    }
  },
  legend: {
    data: ['v0=0.1 μm/s', 'v0=0.4 μm/s', 'v0=0.8 μm/s'],
    orient: 'vertical', left: 441, top: 569, itemGap: 6, itemWidth: 7, itemHeight: 7,
    icon: 'circle',
    formatter: (name) => v0Text(name.slice(2)),
    textStyle: { rich: rich14 }
  }
})
</script>
</body>
</html>
